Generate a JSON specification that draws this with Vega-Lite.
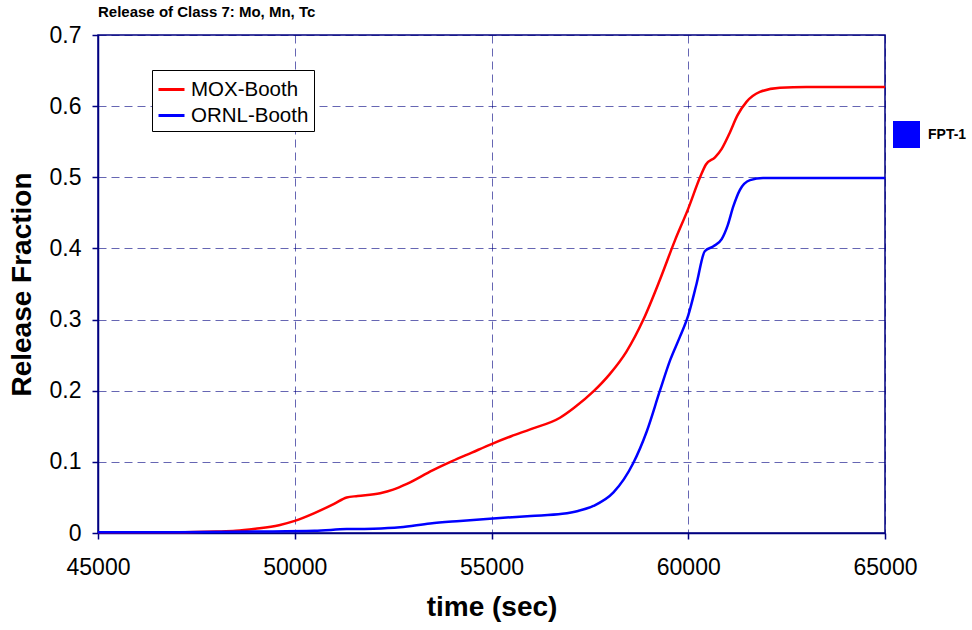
{
  "$schema": "https://vega.github.io/schema/vega-lite/v6.json",
  "width": 787,
  "height": 498,
  "autosize": "none",
  "padding": {"left": 98, "top": 35, "right": 87, "bottom": 97},
  "background": "white",
  "config": {
    "font": "Liberation Sans",
    "view": {"stroke": "#000080", "strokeWidth": 1.5},
    "axis": {
      "labelFont": "Liberation Sans",
      "titleFont": "Liberation Sans",
      "labelColor": "black",
      "titleColor": "black",
      "labelFontSize": 23,
      "titleFontSize": 28,
      "titleFontWeight": "bold",
      "domainColor": "#000080",
      "domainWidth": 1.5,
      "tickColor": "#000080",
      "tickSize": 6,
      "tickWidth": 1.5,
      "gridColor": "#000080",
      "gridOpacity": 0.6,
      "gridDash": [8, 5],
      "gridWidth": 1,
      "labelFlush": false
    }
  },
  "title": {
    "text": "Release of Class 7: Mo, Mn, Tc",
    "anchor": "start",
    "frame": "group",
    "fontSize": 15,
    "fontWeight": "bold",
    "font": "Liberation Sans",
    "color": "black",
    "offset": 4
  },
  "datasets": {
    "curves": [
      {"series": "MOX-Booth", "t": 45000, "v": 0.001},
      {"series": "MOX-Booth", "t": 46000, "v": 0.001},
      {"series": "MOX-Booth", "t": 47000, "v": 0.001},
      {"series": "MOX-Booth", "t": 48000, "v": 0.002},
      {"series": "MOX-Booth", "t": 48500, "v": 0.003},
      {"series": "MOX-Booth", "t": 49000, "v": 0.006},
      {"series": "MOX-Booth", "t": 49600, "v": 0.011},
      {"series": "MOX-Booth", "t": 50000, "v": 0.017},
      {"series": "MOX-Booth", "t": 50500, "v": 0.028},
      {"series": "MOX-Booth", "t": 51000, "v": 0.041},
      {"series": "MOX-Booth", "t": 51320, "v": 0.05},
      {"series": "MOX-Booth", "t": 51600, "v": 0.052},
      {"series": "MOX-Booth", "t": 52170, "v": 0.056},
      {"series": "MOX-Booth", "t": 52500, "v": 0.061},
      {"series": "MOX-Booth", "t": 52850, "v": 0.069},
      {"series": "MOX-Booth", "t": 53500, "v": 0.088},
      {"series": "MOX-Booth", "t": 54000, "v": 0.101},
      {"series": "MOX-Booth", "t": 54500, "v": 0.113},
      {"series": "MOX-Booth", "t": 55000, "v": 0.125},
      {"series": "MOX-Booth", "t": 55500, "v": 0.136},
      {"series": "MOX-Booth", "t": 56000, "v": 0.146},
      {"series": "MOX-Booth", "t": 56740, "v": 0.162},
      {"series": "MOX-Booth", "t": 57100, "v": 0.176},
      {"series": "MOX-Booth", "t": 57590, "v": 0.199},
      {"series": "MOX-Booth", "t": 58000, "v": 0.223},
      {"series": "MOX-Booth", "t": 58430, "v": 0.255},
      {"series": "MOX-Booth", "t": 58860, "v": 0.3},
      {"series": "MOX-Booth", "t": 59280, "v": 0.356},
      {"series": "MOX-Booth", "t": 59660, "v": 0.411},
      {"series": "MOX-Booth", "t": 60000, "v": 0.456},
      {"series": "MOX-Booth", "t": 60300, "v": 0.5},
      {"series": "MOX-Booth", "t": 60450, "v": 0.518},
      {"series": "MOX-Booth", "t": 60680, "v": 0.528},
      {"series": "MOX-Booth", "t": 60850, "v": 0.54},
      {"series": "MOX-Booth", "t": 61050, "v": 0.562},
      {"series": "MOX-Booth", "t": 61250, "v": 0.587},
      {"series": "MOX-Booth", "t": 61480, "v": 0.606},
      {"series": "MOX-Booth", "t": 61820, "v": 0.62},
      {"series": "MOX-Booth", "t": 62330, "v": 0.626},
      {"series": "MOX-Booth", "t": 63000, "v": 0.627},
      {"series": "MOX-Booth", "t": 65000, "v": 0.627},
      {"series": "ORNL-Booth", "t": 45000, "v": 0.001},
      {"series": "ORNL-Booth", "t": 47000, "v": 0.001},
      {"series": "ORNL-Booth", "t": 49000, "v": 0.002},
      {"series": "ORNL-Booth", "t": 50500, "v": 0.003},
      {"series": "ORNL-Booth", "t": 51320, "v": 0.0055},
      {"series": "ORNL-Booth", "t": 52000, "v": 0.006},
      {"series": "ORNL-Booth", "t": 52680, "v": 0.008},
      {"series": "ORNL-Booth", "t": 53440, "v": 0.0135},
      {"series": "ORNL-Booth", "t": 54200, "v": 0.017},
      {"series": "ORNL-Booth", "t": 55040, "v": 0.0205},
      {"series": "ORNL-Booth", "t": 56000, "v": 0.024},
      {"series": "ORNL-Booth", "t": 56800, "v": 0.027},
      {"series": "ORNL-Booth", "t": 57200, "v": 0.031},
      {"series": "ORNL-Booth", "t": 57590, "v": 0.038},
      {"series": "ORNL-Booth", "t": 58100, "v": 0.057},
      {"series": "ORNL-Booth", "t": 58600, "v": 0.098},
      {"series": "ORNL-Booth", "t": 58940, "v": 0.142},
      {"series": "ORNL-Booth", "t": 59280, "v": 0.2},
      {"series": "ORNL-Booth", "t": 59540, "v": 0.243},
      {"series": "ORNL-Booth", "t": 59790, "v": 0.276},
      {"series": "ORNL-Booth", "t": 60000, "v": 0.306},
      {"series": "ORNL-Booth", "t": 60210, "v": 0.35},
      {"series": "ORNL-Booth", "t": 60420, "v": 0.396},
      {"series": "ORNL-Booth", "t": 60640, "v": 0.403},
      {"series": "ORNL-Booth", "t": 60850, "v": 0.413},
      {"series": "ORNL-Booth", "t": 61000, "v": 0.432},
      {"series": "ORNL-Booth", "t": 61145, "v": 0.459},
      {"series": "ORNL-Booth", "t": 61310, "v": 0.482},
      {"series": "ORNL-Booth", "t": 61570, "v": 0.496},
      {"series": "ORNL-Booth", "t": 61900, "v": 0.499},
      {"series": "ORNL-Booth", "t": 63000, "v": 0.499},
      {"series": "ORNL-Booth", "t": 65000, "v": 0.499}
    ],
    "exp": [
      {"series": "FPT-1", "t": null, "v": null}
    ]
  },
  "layer": [
    {
      "data": {"name": "curves"},
      "mark": {"type": "line", "interpolate": "monotone", "strokeWidth": 2.5},
      "encoding": {
        "x": {
          "field": "t",
          "type": "quantitative",
          "scale": {"domain": [45000, 65000], "nice": false, "zero": false},
          "axis": {
            "title": "time (sec)",
            "format": "d",
            "values": [45000, 50000, 55000, 60000, 65000],
            "labelPadding": 17,
            "titlePadding": 14
          }
        },
        "y": {
          "field": "v",
          "type": "quantitative",
          "scale": {"domain": [0, 0.7], "nice": false},
          "axis": {
            "title": "Release Fraction",
            "format": ".1~f",
            "values": [0, 0.1, 0.2, 0.3, 0.4, 0.5, 0.6, 0.7],
            "labelPadding": 11,
            "titlePadding": 13
          }
        },
        "color": {
          "field": "series",
          "type": "nominal",
          "scale": {"domain": ["MOX-Booth", "ORNL-Booth"], "range": ["#ff0000", "#0000ff"]},
          "legend": {
            "title": null,
            "orient": "none",
            "legendX": 54,
            "legendY": 35,
            "symbolType": "stroke",
            "symbolSize": 676,
            "symbolStrokeWidth": 3,
            "labelFontSize": 20.5,
            "labelFont": "Liberation Sans",
            "labelColor": "black",
            "fillColor": "white",
            "strokeColor": "black",
            "padding": 5,
            "rowPadding": 1,
            "labelOffset": 5
          }
        }
      }
    },
    {
      "data": {"name": "exp"},
      "mark": {"type": "point", "shape": "square", "filled": true, "opacity": 1},
      "encoding": {
        "x": {"field": "t", "type": "quantitative"},
        "y": {"field": "v", "type": "quantitative"},
        "fill": {
          "field": "series",
          "type": "nominal",
          "scale": {"domain": ["FPT-1"], "range": ["#0000ff"]},
          "legend": {
            "title": null,
            "orient": "none",
            "legendX": 795,
            "legendY": 86,
            "symbolType": "square",
            "symbolSize": 729,
            "symbolStrokeWidth": 0,
            "symbolOpacity": 1,
            "labelFontSize": 14,
            "labelFontWeight": "bold",
            "labelFont": "Liberation Sans",
            "labelColor": "black",
            "labelOffset": 8
          }
        }
      }
    }
  ]
}
